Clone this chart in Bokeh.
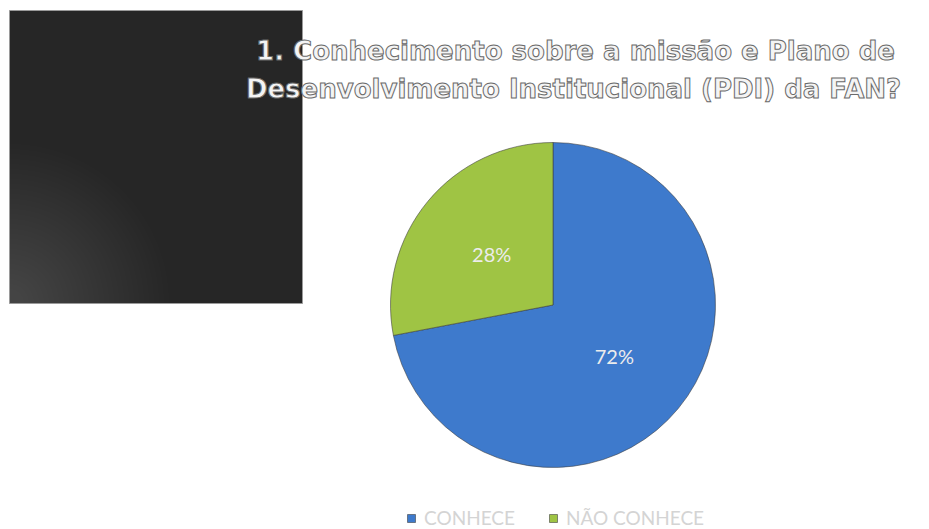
import math
from bokeh.plotting import figure
from bokeh.models import Range1d, Legend, LegendItem, ColumnDataSource
from bokeh.core.properties import value
from bokeh.embed import file_html
from bokeh.resources import INLINE

# ---- data ----
categories = ["CONHECE", "NÃO CONHECE"]
percents = [72, 28]
colors = ["#3e7acc", "#9fc444"]
title_lines = ["1. Conhecimento sobre a missão e Plano de",
               "Desenvolvimento Institucional (PDI) da FAN?"]

W, H = 929, 529
p = figure(width=W, height=H, output_backend="svg", toolbar_location=None,
           x_range=Range1d(0, W), y_range=Range1d(0, H), min_border=0)
p.axis.visible = False
p.grid.visible = False
p.outline_line_color = None
p.background_fill_color = "white"
p.border_fill_color = "white"

# dark decorative panel with a soft glow at the bottom-left
p.quad(left=[9], right=[302], bottom=[226], top=[519], fill_color="#262626",
       line_color="#9a9a9a", line_width=1)
for i in range(30):
    rr = 160 - i * 5
    p.wedge(x=[9], y=[226], radius=rr, start_angle=0, end_angle=math.pi / 2,
            fill_color="white", fill_alpha=0.009, line_color=None)

# pie
cx, cy, R = 552.5, 224.5, 162.5
total = sum(percents)
starts, ends, mids = [], [], []
a = math.pi / 2
for v in percents:
    sweep = 2 * math.pi * v / total
    starts.append(a - sweep)
    ends.append(a)
    mids.append(a - sweep / 2)
    a -= sweep
src = ColumnDataSource(dict(start=starts, end=ends, color=colors, cat=categories,
                            x=[cx] * 2, y=[cy] * 2))
pie = p.wedge(x="x", y="y", radius=R, start_angle="start", end_angle="end",
              fill_color="color", line_color="#3a3a3a", line_width=0.8,
              line_alpha=0.7, source=src)

lx = [cx + 0.49 * R * math.cos(m) for m in mids]
ly = [cy + 0.49 * R * math.sin(m) for m in mids]
p.text(x=lx, y=ly, text=[f"{v}%" for v in percents], text_align="center",
       text_baseline="middle", text_font=value("Lato"), text_font_size="20px",
       text_color="#ececec")

# title
p.text(x=[575, 573], y=[479, 441], text=title_lines, text_align="center",
       text_baseline="middle", text_font=value("DejaVu Sans"),
       text_font_style="bold", text_font_size="26px", text_color="#f4f4f4",
       text_outline_color="#6a6a6a")

# legend
legend = Legend(items=[LegendItem(label=categories[i], renderers=[pie], index=i)
                       for i in range(2)],
                orientation="horizontal", location=(406, 0),
                glyph_width=10, glyph_height=10, label_standoff=8, spacing=33,
                padding=0, margin=0, background_fill_alpha=0,
                border_line_color=None, label_text_font="Lato",
                label_text_font_size="19px", label_text_color="#d4d4d4")
p.add_layout(legend)

open("out.html", "w").write(file_html(p, INLINE))
